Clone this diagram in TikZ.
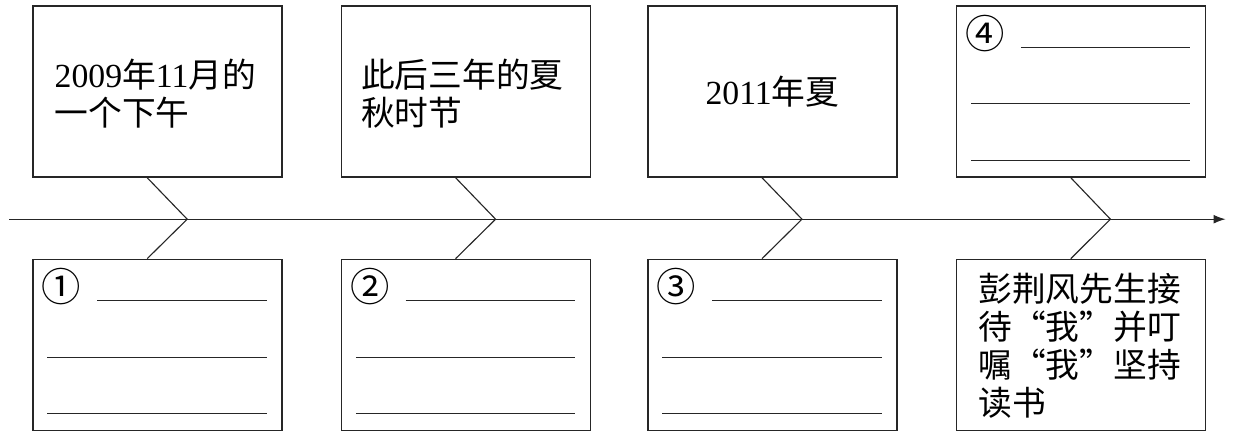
\documentclass[tikz,border=0pt]{standalone}
\usepackage{fontspec}
\setmainfont{Liberation Serif}
\newfontfamily\cjk{Noto Sans CJK SC}
\usepackage{xcolor}
\definecolor{inkgray}{RGB}{38,38,38}
\usetikzlibrary{arrows.meta, positioning}

\tikzset{
  card/.style={draw=inkgray, line width=0.9pt, minimum width=6.225cm, minimum height=4.275cm, inner sep=0pt},
  blank/.style={draw=inkgray, line width=0.8pt},
  spine/.style={draw=inkgray, line width=0.8pt},
  cardtext/.style={font=\fontsize{24}{27}\selectfont, align=left, inner sep=0pt, text=black},
  numlabel/.style={font=\cjk\fontsize{28}{30}\selectfont, inner sep=0pt, text=black}
}

\begin{document}
\begin{tikzpicture}
  \useasboundingbox (0,0) rectangle (31.05,10.9);

  % Boxes above the axis
  \node[card] (top1) at (3.94,8.61) {};
  \node[card] (top2) at (11.65,8.61) {};
  \node[card] (top3) at (19.31,8.61) {};
  \node[card] (top4) at (27.03,8.61) {};
  % Boxes below the axis
  \node[card] (bot1) at (3.94,2.28) {};
  \node[card] (bot2) at (11.65,2.28) {};
  \node[card] (bot3) at (19.31,2.28) {};
  \node[card] (bot4) at (27.03,2.28) {};

  % Time axis
  \coordinate (axstart) at (0.225,5.42);
  \coordinate (axend) at (30.64,5.42);
  \draw[spine, -{Latex[length=0.3cm, width=0.22cm]}] (axstart) -- (axend);

  % Chevrons from the boxes to the axis
  \foreach \i/\x in {1/4.68, 2/12.39, 3/20.05, 4/27.76} {
    \coordinate (tip\i) at (\x,5.42);
    \draw[spine] ([xshift=-0.26cm]top\i.south) -- (tip\i) -- ([xshift=-0.26cm]bot\i.north);
  }

  % Given texts
  \node[cardtext, anchor=west] (t1) at ([shift={(0.55,-0.06)}]top1.west)
    {2009{\cjk 年}11{\cjk 月的}\\{\cjk 一个下午}};
  \node[cardtext, anchor=west] (t2) at ([shift={(0.5,-0.06)}]top2.west)
    {{\cjk 此后三年的夏}\\{\cjk 秋时节}};
  \node[cardtext] (t3) at (top3.center) {2011{\cjk 年夏}};
  \node[cardtext, anchor=north west] (t4) at ([shift={(0.55,-0.35)}]bot4.north west)
    {{\cjk 彭荆风先生接}\\{\cjk 待“我”并叮}\\{\cjk 嘱“我”坚持}\\{\cjk 读书}};

  % Numbered blanks
  \foreach \b/\n in {bot1/①, bot2/②, bot3/③, top4/④} {
    \node[numlabel] (num-\b) at ([shift={(0.73,-0.7)}]\b.north west) {\n};
    \draw[blank] ([shift={(1.62,-1.04)}]\b.north west) -- ([shift={(5.86,-1.04)}]\b.north west);
    \draw[blank] ([shift={(0.375,-2.46)}]\b.north west) -- ([shift={(5.86,-2.46)}]\b.north west);
    \draw[blank] ([shift={(0.375,-3.87)}]\b.north west) -- ([shift={(5.86,-3.87)}]\b.north west);
  }
\end{tikzpicture}
\end{document}
